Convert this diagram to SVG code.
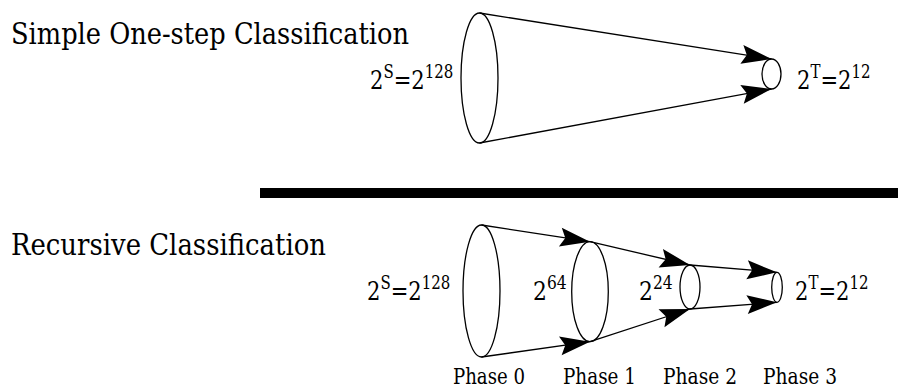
<svg xmlns="http://www.w3.org/2000/svg" width="898" height="390" viewBox="0 0 898 390">
<defs>
<style>
text{font-family:'DejaVu Serif','Liberation Serif',serif;fill:#000}
.title{font-size:29px}
.lab{font-size:26px}
.sup{font-size:18.5px}
.ph{font-size:22px}
.e{fill:none;stroke:#000;stroke-width:1.3}
.c{fill:none;stroke:#000;stroke-width:1.3}
</style>
<marker id="ah" markerUnits="userSpaceOnUse" markerWidth="34" markerHeight="24" viewBox="-31 -12 34 24" refX="0" refY="0" orient="auto">
<path d="M0,0 L-30,-9.5 L-25,0 L-30,9.5 Z" fill="#000"/>
</marker>
</defs>
<rect width="898" height="390" fill="#fff"/>
<text class="title" x="11" y="44" textLength="398" lengthAdjust="spacingAndGlyphs">Simple One-step Classification</text>
<text class="title" x="11" y="255" textLength="315" lengthAdjust="spacingAndGlyphs">Recursive Classification</text>
<rect x="260" y="188" width="638" height="10" fill="#000"/>
<g id="connectors">
<line class="c" x1="479.5" y1="13" x2="771.5" y2="59" marker-end="url(#ah)"/>
<line class="c" x1="479.5" y1="143" x2="771.5" y2="89" marker-end="url(#ah)"/>
<line class="c" x1="481.5" y1="225" x2="590" y2="241.7" marker-end="url(#ah)"/>
<line class="c" x1="481.5" y1="357" x2="590" y2="341.7" marker-end="url(#ah)"/>
<line class="c" x1="590" y1="241.7" x2="690" y2="265" marker-end="url(#ah)"/>
<line class="c" x1="590" y1="341.7" x2="690" y2="309" marker-end="url(#ah)"/>
<line class="c" x1="690" y1="265" x2="777" y2="272.3" marker-end="url(#ah)"/>
<line class="c" x1="690" y1="309" x2="777" y2="302.3" marker-end="url(#ah)"/>
</g>
<g id="top-source">
<ellipse class="e" cx="479.5" cy="78" rx="18.5" ry="65"/>
<text class="lab" transform="translate(370,89) scale(0.81,1)">2<tspan class="sup" dy="-11">S</tspan><tspan dy="11">=2</tspan><tspan class="sup" dy="-11">128</tspan></text>
</g>
<g id="top-target">
<ellipse class="e" cx="771.5" cy="74" rx="9.5" ry="15"/>
<text class="lab" transform="translate(797,89) scale(0.81,1)">2<tspan class="sup" dy="-11">T</tspan><tspan dy="11">=2</tspan><tspan class="sup" dy="-11">12</tspan></text>
</g>
<g id="phase0">
<ellipse class="e" cx="481.5" cy="291" rx="18.5" ry="66"/>
<text class="lab" transform="translate(367,300) scale(0.81,1)">2<tspan class="sup" dy="-11">S</tspan><tspan dy="11">=2</tspan><tspan class="sup" dy="-11">128</tspan></text>
<text class="ph" x="453" y="384" textLength="72" lengthAdjust="spacingAndGlyphs">Phase 0</text>
</g>
<g id="phase1">
<ellipse class="e" cx="590" cy="291.7" rx="18.3" ry="50"/>
<text class="lab" transform="translate(533,300) scale(0.84,1)">2<tspan class="sup" dy="-11">64</tspan></text>
<text class="ph" x="563" y="384" textLength="73" lengthAdjust="spacingAndGlyphs">Phase 1</text>
</g>
<g id="phase2">
<ellipse class="e" cx="690" cy="287" rx="10" ry="22"/>
<text class="lab" transform="translate(639,300) scale(0.84,1)">2<tspan class="sup" dy="-11">24</tspan></text>
<text class="ph" x="663" y="384" textLength="74" lengthAdjust="spacingAndGlyphs">Phase 2</text>
</g>
<g id="phase3">
<ellipse class="e" cx="777" cy="287.3" rx="5.3" ry="15"/>
<text class="lab" transform="translate(795,300) scale(0.81,1)">2<tspan class="sup" dy="-11">T</tspan><tspan dy="11">=2</tspan><tspan class="sup" dy="-11">12</tspan></text>
<text class="ph" x="763" y="384" textLength="74" lengthAdjust="spacingAndGlyphs">Phase 3</text>
</g>
</svg>
